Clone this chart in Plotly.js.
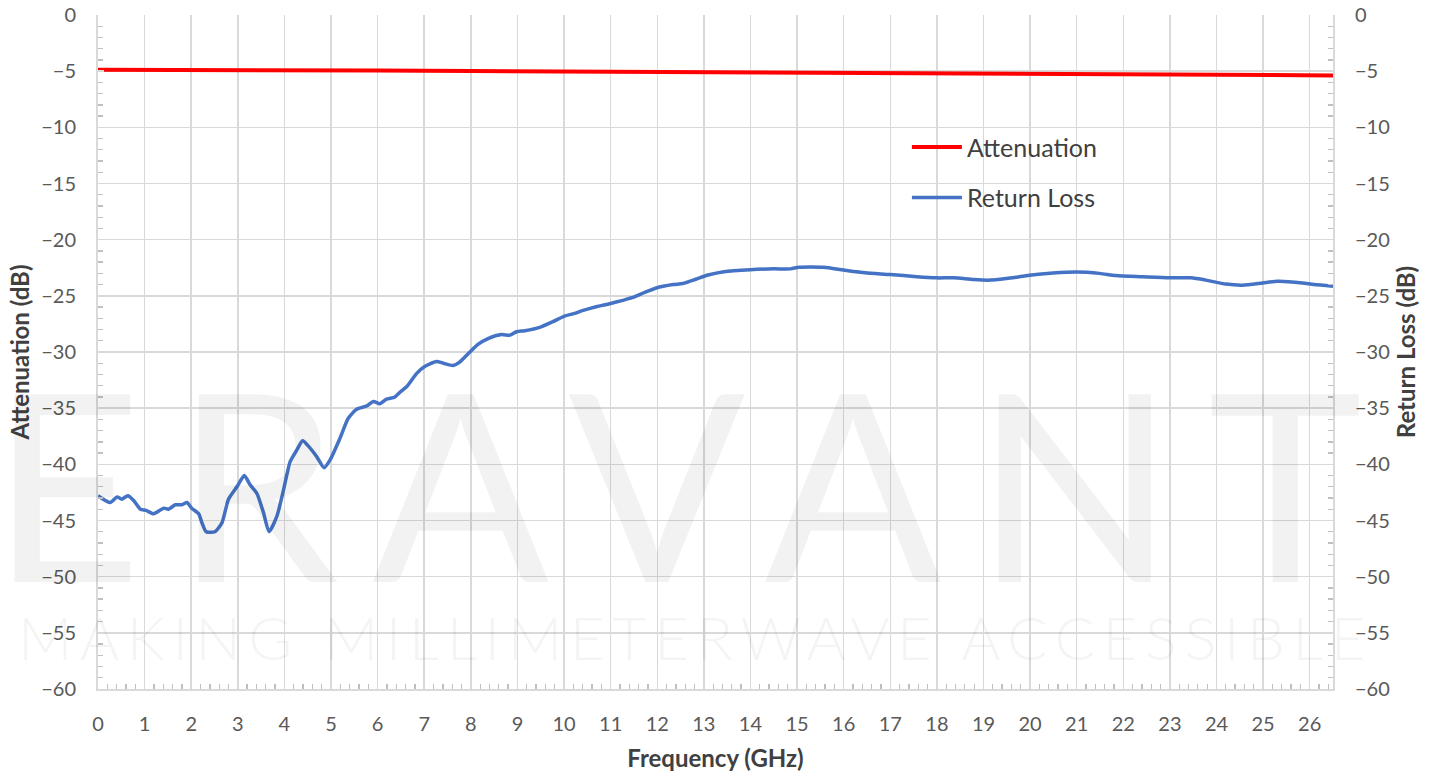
<!DOCTYPE html>
<html>
<head>
<meta charset="utf-8">
<script src="https://cdn.plot.ly/plotly-3.0.1.min.js"></script>
<style>
  html, body { margin: 0; padding: 0; background: #fff; }
  #chart { width: 1441px; height: 776px; }
  .annotation[data-index="0"] text { letter-spacing: 33px; }
  .annotation[data-index="1"] text { letter-spacing: 7.5px; }
</style>
</head>
<body>
<div id="chart"></div>
<script>
// ---- Data ----
const attFreq = [0, 2, 4, 6, 8, 10, 12, 14, 16, 18, 20, 22, 24, 26.5];
const attenuation = [-4.88, -4.88, -4.90, -4.94, -4.98, -5.02, -5.06, -5.10, -5.15, -5.21, -5.26, -5.31, -5.34, -5.38];

const rlFreq = [0, 0.26, 0.41, 0.51, 0.64, 0.76, 0.91, 1.03, 1.19, 1.41, 1.51, 1.66, 1.80, 1.91, 2.01, 2.16, 2.23, 2.32, 2.51, 2.66, 2.80, 2.98, 3.14, 3.26, 3.41, 3.55, 3.67, 3.84, 3.98, 4.12, 4.27, 4.39, 4.52, 4.69, 4.85, 4.98, 5.19, 5.37, 5.55, 5.77, 5.91, 6.05, 6.19, 6.37, 6.50, 6.62, 6.84, 7.01, 7.26, 7.41, 7.62, 7.76, 7.98, 8.16, 8.37, 8.66, 8.84, 8.98, 9.16, 9.48, 9.76, 10.01, 10.19, 10.41, 10.69, 10.98, 11.26, 11.51, 11.73, 11.98, 12.34, 12.55, 12.84, 13.09, 13.43, 14.0, 14.5, 14.86, 15.04, 15.57, 16.0, 16.46, 17.0, 17.57, 18.0, 18.36, 18.79, 19.14, 19.5, 19.77, 20.13, 20.49, 20.99, 21.49, 21.84, 22.41, 22.99, 23.45, 23.77, 24.2, 24.56, 24.99, 25.31, 25.84, 26.09, 26.5];
const returnLoss = [-42.8, -43.4, -42.9, -43.1, -42.8, -43.2, -44.0, -44.1, -44.4, -43.9, -44.0, -43.6, -43.6, -43.4, -43.9, -44.4, -45.2, -46.0, -46.0, -45.2, -43.1, -42.0, -41.0, -41.8, -42.6, -44.3, -46.0, -44.6, -42.3, -39.8, -38.7, -37.9, -38.4, -39.3, -40.3, -39.6, -37.7, -35.9, -35.1, -34.8, -34.4, -34.6, -34.2, -34.0, -33.5, -33.1, -31.9, -31.3, -30.85, -31.0, -31.2, -30.9, -30.0, -29.3, -28.8, -28.45, -28.5, -28.2, -28.1, -27.8, -27.3, -26.8, -26.6, -26.3, -25.97, -25.7, -25.4, -25.1, -24.7, -24.3, -24.0, -23.9, -23.5, -23.15, -22.85, -22.67, -22.6, -22.6, -22.45, -22.45, -22.7, -22.95, -23.1, -23.3, -23.4, -23.4, -23.55, -23.6, -23.45, -23.3, -23.1, -22.97, -22.88, -23.0, -23.2, -23.3, -23.4, -23.4, -23.6, -23.95, -24.05, -23.85, -23.7, -23.85, -24.0, -24.15];

const xTitle = 'Frequency (GHz)';
const yTitle = 'Attenuation (dB)';
const y2Title = 'Return Loss (dB)';
const seriesNames = ['Attenuation', 'Return Loss'];
const watermark = 'ERAVANT';
const tagline = 'MAKING MILLIMETERWAVE ACCESSIBLE';

// ---- Styling ----
const FONT = 'Lato, "Open Sans", sans-serif';
const tickFont = { family: FONT, size: 20, color: '#595959' };
const titleFont = { family: FONT, size: 24, color: '#404040', weight: 'bold' };
const gridC = '#d9d9d9';

const traces = [
  { x: attFreq, y: attenuation, name: seriesNames[0], type: 'scatter', mode: 'lines',
    line: { color: '#ff0000', width: 4 }, yaxis: 'y', legendgroup: 'a' },
  { x: rlFreq, y: returnLoss, name: seriesNames[1], type: 'scatter', mode: 'lines',
    line: { color: '#4472c4', width: 3.5, shape: 'spline', smoothing: 0.6 }, yaxis: 'y2', legendgroup: 'b' }
];

const yCommon = {
  range: [-60, 0], dtick: 5, tick0: 0, fixedrange: true,
  showline: true, linecolor: gridC, linewidth: 2,
  ticks: 'inside', ticklen: 6, tickcolor: gridC, tickwidth: 1.5,
  minor: { dtick: 1, ticks: 'inside', ticklen: 5, tickcolor: '#bfbfbf', tickwidth: 1.3, showgrid: false },
  tickfont: tickFont, ticklabelstandoff: 16, zeroline: false
};

const layout = {
  width: 1441, height: 776,
  margin: { l: 98, r: 108, t: 15, b: 87 },
  paper_bgcolor: '#ffffff', plot_bgcolor: '#ffffff',
  font: { family: FONT },
  showlegend: true,
  legend: {
    x: 0.655, y: 0.838, xanchor: 'left', yanchor: 'top',
    bgcolor: 'rgba(0,0,0,0)', font: { family: FONT, size: 25, color: '#404040' },
    tracegroupgap: 15, traceorder: 'grouped', itemwidth: 50
  },
  xaxis: {
    range: [0, 26.5], dtick: 1, tick0: 0, fixedrange: true,
    showgrid: true, gridcolor: gridC, gridwidth: 1.5,
    showline: true, linecolor: gridC, linewidth: 2,
    ticks: 'inside', ticklen: 6, tickcolor: gridC, tickwidth: 1.5,
    minor: { dtick: 0.2, ticks: 'inside', ticklen: 5, tickcolor: '#bfbfbf', tickwidth: 1.3, showgrid: false },
    tickfont: tickFont, ticklabelstandoff: 16, zeroline: false,
    title: { text: xTitle, font: titleFont, standoff: 16 }
  },
  yaxis: Object.assign({}, yCommon, {
    showgrid: true, gridcolor: gridC, gridwidth: 1.5,
    title: { text: yTitle, font: titleFont, standoff: 5 }
  }),
  yaxis2: Object.assign({}, yCommon, {
    overlaying: 'y', side: 'right', showgrid: false,
    title: { text: y2Title, font: titleFont, standoff: 9 }
  }),
  annotations: [
    { text: watermark, xref: 'paper', yref: 'paper', x: 0.482, y: 0.31, xanchor: 'center', yanchor: 'middle',
      showarrow: false, font: { family: FONT, size: 262, color: 'rgba(0,0,0,0.05)', weight: 'normal' } },
    { text: tagline, xref: 'paper', yref: 'paper', x: 0.484, y: 0.077, xanchor: 'center', yanchor: 'middle',
      showarrow: false, font: { family: FONT, size: 60, color: 'rgba(0,0,0,0.045)', weight: 300 } }
  ]
};

Plotly.newPlot('chart', traces, layout, { displayModeBar: false, staticPlot: true });
</script>
</body>
</html>
